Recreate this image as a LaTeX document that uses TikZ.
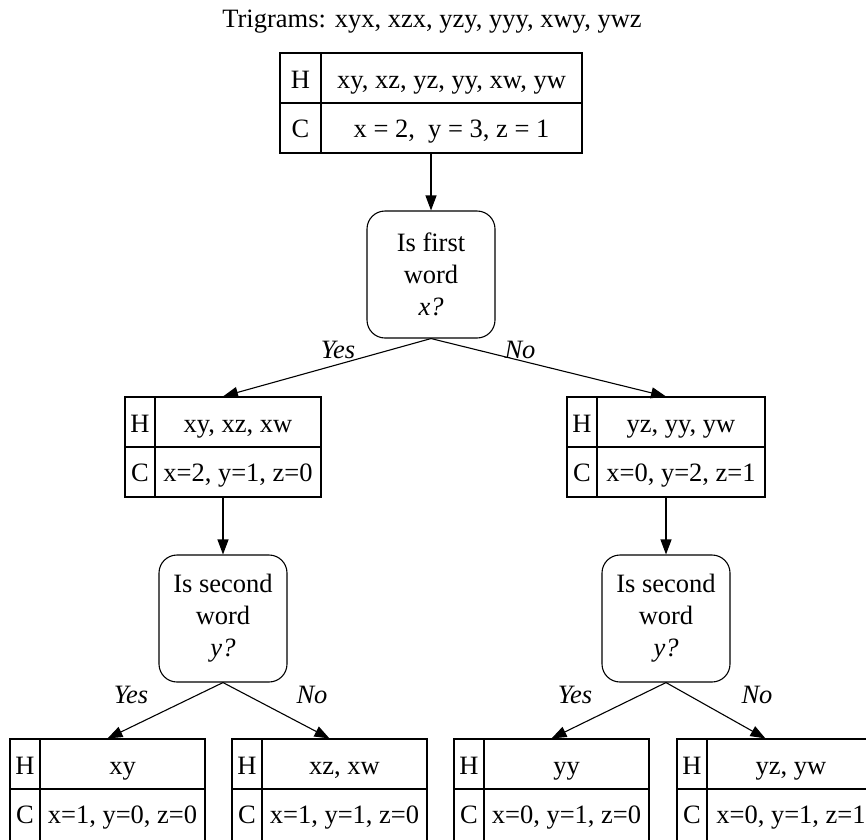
\documentclass[tikz,border=0pt]{standalone}
\usepackage{fontspec}
\setmainfont{Liberation Serif}
\usetikzlibrary{fit,calc,arrows.meta}

% A two-row table: H row (history) and C row (counts)
% #1 name, #2 left, #3 top, #4 right, #5 bottom, #6 divider x, #7 H text, #8 C text
\newcommand\gtable[8]{%
  \coordinate (#1-a) at (#2,#3);
  \coordinate (#1-b) at (#4,#5);
  \node[tbl, fit=(#1-a)(#1-b)] (#1) {};
  \draw[rule] (#2,#3+50) -- (#4,#3+50);
  \draw[rule] (#6,#3) -- (#6,#5);
  \node[cell] (#1-h) at ({(#2+#6)/2},#3+35) {H};
  \node[cell] (#1-c) at ({(#2+#6)/2},#3+84) {C};
  \node[cell] (#1-ht) at ({(#6+#4)/2},#3+35) {#7};
  \node[cell] (#1-ct) at ({(#6+#4)/2},#3+84) {#8};
}

\begin{document}
\begin{tikzpicture}[x=1pt,y=-1pt,
  every node/.style={font=\fontsize{26.5}{32}\selectfont},
  tbl/.style={draw, line width=1.1pt, inner sep=0pt},
  rule/.style={line width=1.1pt},
  cell/.style={inner sep=0pt, anchor=base},
  dec/.style={draw, line width=1.1pt, rounded corners=18pt, minimum width=128pt,
    minimum height=127pt, align=center, inner sep=0pt},
  arr/.style={line width=1.1pt, -{Triangle[length=15pt,width=11pt]}},
  lbl/.style={font=\fontsize{26.5}{32}\selectfont\itshape, inner sep=0pt}]

\path[use as bounding box] (0,0) rectangle (866,839);
\clip (0,0) rectangle (866,839);

\node (title) at (432,22) {Trigrams: xyx, xzx, yzy, yyy, xwy, ywz};

\gtable{top}{280}{53}{582}{153}{321}{xy, xz, yz, yy, xw, yw}{x = 2,\ \ y = 3, z = 1}

\node[dec] (q1) at (431,274.5) {Is first\\word\\\textit{x?}};

\gtable{lt}{125}{397}{321}{497}{155}{xy, xz, xw}{x=2, y=1, z=0}
\gtable{rt}{567}{397}{765}{497}{597}{yz, yy, yw}{x=0, y=2, z=1}

\node[dec] (q2l) at (223,618.5) {Is second\\word\\\textit{y?}};
\node[dec] (q2r) at (666,618.5) {Is second\\word\\\textit{y?}};

\gtable{ll}{10}{739}{205}{845}{40}{xy}{x=1, y=0, z=0}
\gtable{lr}{232}{739}{427}{845}{262}{xz, xw}{x=1, y=1, z=0}
\gtable{rl}{454}{739}{649}{845}{484}{yy}{x=0, y=1, z=0}
\gtable{rr}{677}{739}{875}{845}{707}{yz, yw}{x=0, y=1, z=1}

% connectors
\draw[arr] (top) -- (q1);
\draw[arr] (q1.south) -- (lt.north);
\draw[arr] (q1.south) -- (rt.north);
\draw[arr] (lt) -- (q2l);
\draw[arr] (rt) -- (q2r);
\draw[arr] (q2l.south) -- (ll.north);
\draw[arr] (q2l.south) -- (lr.north);
\draw[arr] (q2r.south) -- (rl.north);
\draw[arr] (q2r.south) -- ([xshift=89pt]rr.north west);

% branch labels
\node[lbl] (y1) at (338,350) {Yes};
\node[lbl] (n1) at (520,350) {No};
\node[lbl] (y2) at (131,695) {Yes};
\node[lbl] (n2) at (312,695) {No};
\node[lbl] (y3) at (575,695) {Yes};
\node[lbl] (n3) at (757,695) {No};

\end{tikzpicture}
\end{document}
